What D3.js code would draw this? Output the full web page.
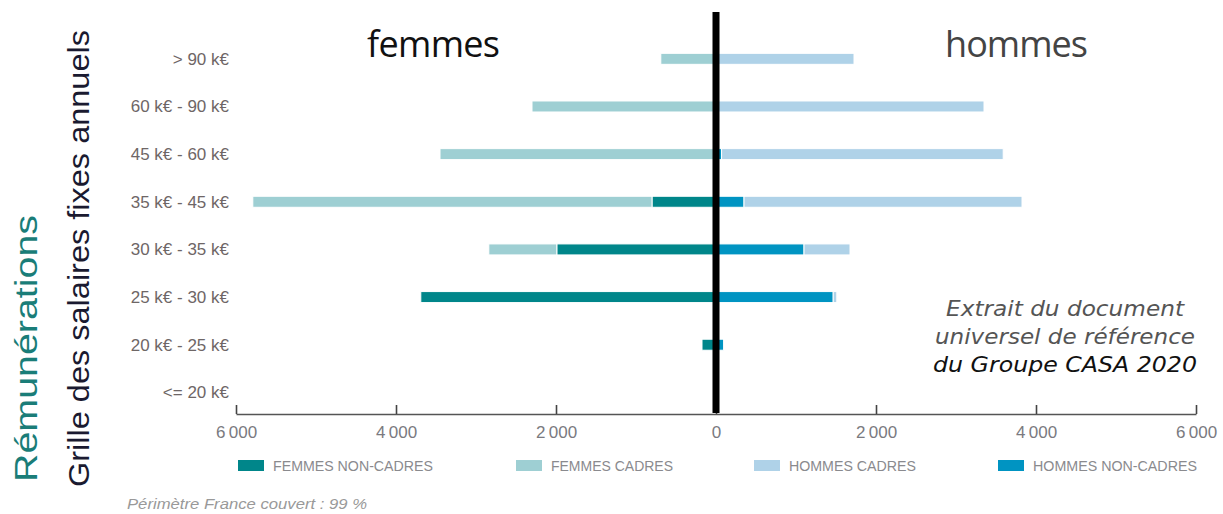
<!DOCTYPE html>
<html><head><meta charset="utf-8">
<script src="https://cdn.jsdelivr.net/npm/d3@7"></script>
<style>
body{margin:0;background:#fff;}
svg{display:block;}
</style></head>
<body>
<svg id="chart" width="1223" height="514"></svg>
<script>
// ---- data ----
const categories = ["> 90 k€","60 k€ - 90 k€","45 k€ - 60 k€","35 k€ - 45 k€","30 k€ - 35 k€","25 k€ - 30 k€","20 k€ - 25 k€","<= 20 k€"];
const femmesNonCadres = [0, 0, 0, 800, 1990, 3690, 175, 0];
const femmesCadres    = [690, 2300, 3450, 4990, 850, 0, 0, 0];
const hommesCadres    = [1725, 3350, 3520, 3475, 575, 45, 0, 0];
const hommesNonCadres = [0, 0, 70, 350, 1100, 1465, 95, 0];
const tickValues = [-6000, -4000, -2000, 0, 2000, 4000, 6000];
const legendLabels = ["FEMMES NON-CADRES", "FEMMES CADRES", "HOMMES CADRES", "HOMMES NON-CADRES"];
const colors = {fnc:"#00868a", fc:"#9ecfd3", hc:"#afd2e8", hnc:"#0094c2"};
const legendColors = [colors.fnc, colors.fc, colors.hc, colors.hnc];

// ---- layout ----
const svg = d3.select("#chart");
const x = d3.scaleLinear().domain([-6000, 6000]).range([236, 1196]);
const y = d3.scaleBand().domain(categories).range([35, 416.2]);
const barH = 11;
const axisY = 414;

const rows = categories.map((c, i) => ({
  cat: c,
  segs: [
    {x0: 0, x1: -femmesNonCadres[i], color: colors.fnc},
    {x0: -femmesNonCadres[i], x1: -femmesNonCadres[i] - femmesCadres[i], color: colors.fc},
    {x0: 0, x1: hommesNonCadres[i], color: colors.hnc},
    {x0: hommesNonCadres[i], x1: hommesNonCadres[i] + hommesCadres[i], color: colors.hc}
  ].filter(s => s.x0 !== s.x1)
}));

const g = svg.append("g");
g.selectAll("g.row").data(rows).join("g").attr("class", "row")
  .each(function(r){
    const cy = y(r.cat) + y.bandwidth() / 2;
    d3.select(this).selectAll("rect").data(r.segs).join("rect")
      .attr("x", s => x(Math.min(s.x0, s.x1)))
      .attr("width", s => Math.abs(x(s.x1) - x(s.x0)))
      .attr("y", cy - barH / 2)
      .attr("height", barH)
      .attr("fill", s => s.color)
      .attr("stroke", "#fff")
      .attr("stroke-width", 1);
  });

// category labels
svg.append("g").selectAll("text").data(categories).join("text")
  .attr("x", 229)
  .attr("y", d => y(d) + y.bandwidth() / 2 + 6)
  .attr("text-anchor", "end")
  .attr("font-family", "'Liberation Sans Narrow','Liberation Sans',Arial,sans-serif")
  .attr("font-size", 17)
  .attr("fill", "#6e6666")
  .text(d => d);

// x axis
const fmt = d => d3.format(",")(Math.abs(d)).replace(/,/g, "\u2009");
const axis = d3.axisBottom(x).tickValues(tickValues).tickFormat(fmt)
  .tickSizeInner(-9).tickSizeOuter(0).tickPadding(12);
const ax = svg.append("g").attr("transform", `translate(0,${axisY})`).call(axis);
ax.select(".domain").attr("stroke", "#555").attr("stroke-width", 1.6);
ax.selectAll(".tick line").attr("stroke", "#444").attr("stroke-width", 1.6);
ax.selectAll(".tick text").attr("fill", "#7a7a80")
  .attr("font-family", "'Liberation Sans Narrow','Liberation Sans',Arial,sans-serif")
  .attr("font-size", 17);

// center line
svg.append("line")
  .attr("x1", x(0)).attr("x2", x(0))
  .attr("y1", 12).attr("y2", axisY - 1)
  .attr("stroke", "#000").attr("stroke-width", 7);

// titles femmes / hommes
svg.append("text").attr("x", 367).attr("y", 57)
  .attr("font-family", "'Open Sans',sans-serif").attr("font-size", 36)
  .attr("fill", "#111").attr("textLength", 133).text("femmes");
svg.append("text").attr("x", 945).attr("y", 57)
  .attr("font-family", "'Open Sans',sans-serif").attr("font-size", 36)
  .attr("fill", "#444").attr("textLength", 143).text("hommes");

// y titles
svg.append("text")
  .attr("transform", "translate(37,482) rotate(-90)")
  .attr("font-family", "'Liberation Sans',Arial,sans-serif").attr("font-size", 31)
  .attr("fill", "#1a7d78").attr("textLength", 267).attr("lengthAdjust", "spacingAndGlyphs")
  .text("Rémunérations");
svg.append("text")
  .attr("transform", "translate(89,487) rotate(-90)")
  .attr("font-family", "'Liberation Sans',Arial,sans-serif").attr("font-size", 30)
  .attr("fill", "#1a1a30").attr("textLength", 457).attr("lengthAdjust", "spacingAndGlyphs")
  .text("Grille des salaires fixes annuels");

// annotation
const note = [
  {t: "Extrait du document", y: 316, c: "#555", w: 238},
  {t: "universel de référence", y: 344, c: "#555", w: 260},
  {t: "du Groupe CASA 2020", y: 372, c: "#111", w: 264}
];
svg.append("g").selectAll("text").data(note).join("text")
  .attr("x", 1065).attr("y", d => d.y).attr("text-anchor", "middle")
  .attr("font-family", "'DejaVu Sans',Verdana,sans-serif").attr("font-style", "italic")
  .attr("font-size", 22).attr("fill", d => d.c)
  .attr("textLength", d => d.w).attr("lengthAdjust", "spacingAndGlyphs")
  .text(d => d.t);

// legend
const legX = [238, 516, 754, 998];
const legW = [160, 122, 127, 164];
const leg = svg.append("g").selectAll("g").data(legendLabels).join("g");
leg.append("rect")
  .attr("x", (d, i) => legX[i]).attr("y", 460).attr("width", 26).attr("height", 11)
  .attr("fill", (d, i) => legendColors[i]);
leg.append("text")
  .attr("x", (d, i) => legX[i] + 35).attr("y", 471)
  .attr("font-family", "'Liberation Sans',Arial,sans-serif").attr("font-size", 15)
  .attr("fill", "#8a8a8e")
  .attr("textLength", (d, i) => legW[i]).attr("lengthAdjust", "spacingAndGlyphs")
  .text(d => d);

// footnote
svg.append("text").attr("x", 127).attr("y", 509)
  .attr("font-family", "'Liberation Sans',Arial,sans-serif").attr("font-style", "italic")
  .attr("font-size", 15).attr("fill", "#999")
  .attr("textLength", 240).attr("lengthAdjust", "spacingAndGlyphs")
  .text("Périmètre France couvert : 99 %");
</script>
</body></html>
